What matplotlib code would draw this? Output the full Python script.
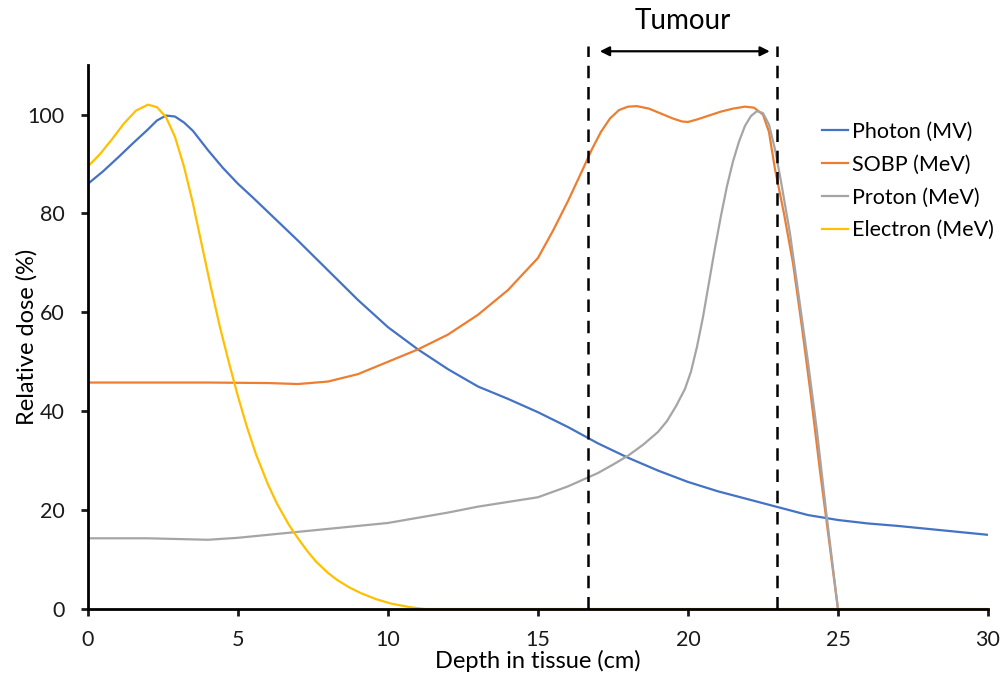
import matplotlib
matplotlib.use("Agg")
import matplotlib.pyplot as plt

plt.rcParams["font.family"] = ["Lato", "DejaVu Sans"]

# depth (cm) / relative dose (%)
photon_x = [0, 0.5, 1, 1.5, 2, 2.3, 2.6, 2.9, 3.2, 3.5, 4, 4.5, 5, 5.5, 6, 7, 8, 9, 10, 11, 12, 13, 14,
            15, 16, 17, 18, 19, 20, 21, 22, 23, 24, 25, 26, 27, 28, 29, 30]
photon_y = [86, 88.5, 91.3, 94.2, 97, 98.8, 99.8, 99.6, 98.4, 96.7, 92.8, 89.2, 86, 83.2, 80.3, 74.5,
            68.5, 62.5, 57, 52.5, 48.5, 45, 42.5, 39.8, 36.8, 33.5, 30.6, 28, 25.7, 23.8, 22.2, 20.6,
            19, 18, 17.3, 16.8, 16.2, 15.6, 15]

sobp_x = [0, 2, 4, 6, 7, 8, 9, 10, 11, 12, 13, 14, 15, 15.5, 16, 16.5, 16.8, 17.1, 17.4, 17.7, 18, 18.3,
          18.7, 19.1, 19.5, 19.8, 20, 20.3, 20.7, 21.1, 21.5, 21.9, 22.2, 22.5, 22.7, 22.9, 23.2, 23.5,
          23.8, 24.1, 24.4, 24.7, 25]
sobp_y = [45.8, 45.8, 45.8, 45.7, 45.5, 46, 47.5, 50, 52.5, 55.5, 59.5, 64.5, 71, 76.5, 82.5, 89, 93,
          96.5, 99.2, 100.9, 101.6, 101.7, 101.2, 100.2, 99.2, 98.6, 98.5, 99, 99.8, 100.6, 101.2,
          101.6, 101.4, 100, 96.5, 89, 80, 70, 57, 43, 28, 14, 0]

proton_x = [0, 2, 4, 5, 6, 7, 8, 10, 12, 13, 15, 16, 17, 17.5, 18, 18.5, 19, 19.3, 19.6, 19.9, 20.1,
            20.3, 20.5, 20.7, 20.9, 21.1, 21.3, 21.5, 21.7, 21.9, 22.1, 22.3, 22.5, 22.7, 22.9, 23.1,
            23.4, 23.7, 24, 24.3, 24.6, 25]
proton_y = [14.3, 14.3, 14.0, 14.4, 15, 15.6, 16.2, 17.4, 19.5, 20.7, 22.6, 24.8, 27.5, 29.2, 31, 33.2,
            35.8, 38, 41, 44.5, 48, 53, 59, 66, 73, 79.5, 85.5, 90.5, 94.5, 97.7, 99.7, 100.7, 100.3,
            98, 93, 86.5, 76, 63, 50, 36, 20, 0]

electron_x = [0, 0.4, 0.8, 1.2, 1.6, 2, 2.3, 2.6, 2.9, 3.2, 3.5, 3.8, 4.1, 4.4, 4.7, 5, 5.3, 5.6, 6,
              6.3, 6.7, 7, 7.3, 7.6, 8, 8.3, 8.7, 9.1, 9.6, 10.1, 10.7, 11.2, 30]
electron_y = [89.5, 92, 95, 98.2, 100.8, 102, 101.5, 99.5, 95.5, 89.5, 82, 73.5, 65, 57, 49.8, 43,
              36.8, 31.3, 25.2, 21.3, 17, 14.3, 11.8, 9.6, 7.3, 5.9, 4.4, 3.2, 2, 1.1, 0.4, 0, 0]

tumour_start, tumour_end = 16.67, 22.97

fig = plt.figure(figsize=(10.03, 6.79), dpi=100)
ax = fig.add_axes([0.0877, 0.1031, 0.8973, 0.801])

ax.plot(photon_x, photon_y, color="#4472C4", lw=1.6, label="Photon (MV)")
ax.plot(sobp_x, sobp_y, color="#ED7D31", lw=1.6, label="SOBP (MeV)")
ax.plot(proton_x, proton_y, color="#A5A5A5", lw=1.6, label="Proton (MeV)")
ax.plot(electron_x, electron_y, color="#FFC000", lw=1.6, label="Electron (MeV)")

ax.set_xlim(0, 30)
ax.set_ylim(0, 110)
ax.set_xticks([0, 5, 10, 15, 20, 25, 30])
ax.set_yticks([0, 20, 40, 60, 80, 100])
for s in ["top", "right"]:
    ax.spines[s].set_visible(False)
for s in ["left", "bottom"]:
    ax.spines[s].set_linewidth(2.0)
ax.tick_params(width=2.0, length=5, labelsize=15.5, colors="#1a1a1a")
ax.tick_params(axis="x", pad=10)
ax.tick_params(axis="y", pad=12)
ax.set_xlabel("Depth in tissue (cm)", fontsize=17, labelpad=0)
ax.set_ylabel("Relative dose (%)", fontsize=17)
ax.yaxis.set_label_coords(-0.056, 0.5)

# tumour region
for xv in (tumour_start, tumour_end):
    ax.plot([xv, xv], [0, 113.8], color="black", lw=1.8, ls=(0, (5, 3.5)), clip_on=False)
ax.annotate("", xy=(tumour_end - 0.15, 112.8), xytext=(tumour_start + 0.3, 112.8),
            arrowprops=dict(arrowstyle="<|-|>", color="black", lw=1.6, mutation_scale=14),
            annotation_clip=False)
ax.text((tumour_start + tumour_end) / 2, 119, "Tumour", fontsize=20, ha="center", va="center")

ax.legend(loc="upper left", bbox_to_anchor=(0.804, 0.916), frameon=False, fontsize=15.5,
          handlelength=1.2, handletextpad=0.2, labelspacing=0.6, borderpad=0)

fig.savefig("out.png", dpi=100, facecolor="white")
